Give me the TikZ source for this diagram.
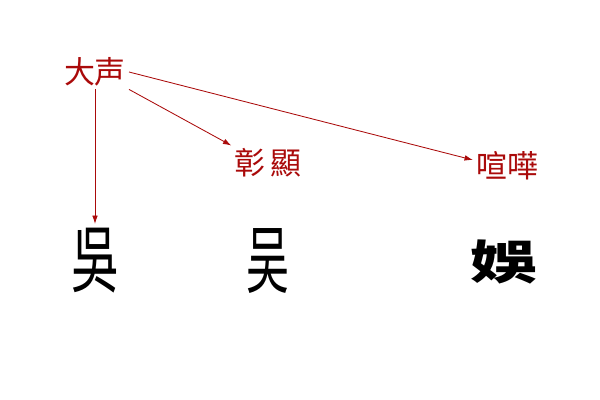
\documentclass[tikz,border=0pt]{standalone}
\usepackage{fontspec}
\newfontfamily\cjk{Noto Sans CJK TC}
\usetikzlibrary{arrows.meta}
\definecolor{inkred}{RGB}{170,10,10}
\tikzset{gloss/.style={text=inkred, font=\cjk\fontsize{22}{26}\selectfont, inner sep=2pt},
         seal/.style={font=\cjk\fontsize{34}{40}\selectfont, inner sep=3pt},
         link/.style={draw=inkred, line width=0.6pt, -{Latex[length=6pt,width=4pt]}}}
\begin{document}
\begin{tikzpicture}[x=0.025cm, y=-0.025cm]
\useasboundingbox (0,0) rectangle (600,400);
\node[gloss] (big)   at (95,72)   {大声};
\node[gloss] (show)  at (268,163) {彰\,顯};
\node[gloss] (noisy) at (507,166) {喧嘩};
\node[seal] (wu)     at (95,261)  {\scalebox{1}[1.55]{吳}};
\node[seal] (wuvar)  at (268,261) {\scalebox{0.9}[1.55]{吴}};
\node[seal] (yu)     at (504,262) {\bfseries\scalebox{1.4}[0.98]{娛}};
\draw[link] (big.south) -- (big.south |- wu.north);
\draw[link] (big.south east) -- (show.north west);
\draw[link] (big.east) -- (noisy.170);
\end{tikzpicture}
\end{document}
